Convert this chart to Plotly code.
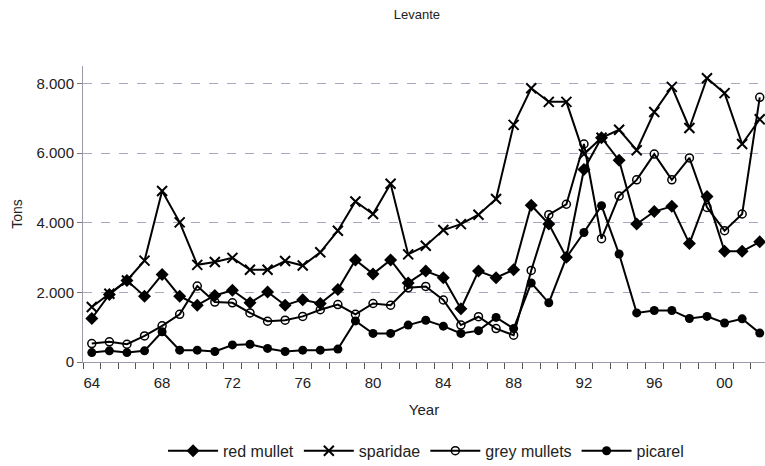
import plotly.graph_objects as go

years = list(range(1964, 2003))

red_mullet = [1250, 1940, 2340, 1890, 2510, 1890, 1630,
              1910, 2060, 1700, 2010, 1630, 1790, 1680,
              2080, 2930, 2530, 2930, 2270, 2610, 2420,
              1530, 2610, 2420, 2650, 4500, 3960, 3010,
              5530, 6440, 5790, 3960, 4320, 4470, 3400,
              4750, 3180, 3180, 3450]
sparidae = [1580, 1960, 2340, 2910, 4910, 4010, 2790,
            2870, 2990, 2650, 2650, 2900, 2770, 3150,
            3770, 4610, 4250, 5120, 3090, 3340, 3790,
            3960, 4230, 4680, 6810, 7860, 7470, 7470,
            5970, 6440, 6670, 6080, 7180, 7900, 6720,
            8150, 7720, 6260, 6970]
grey_mullets = [530, 580, 510, 750, 1040, 1370, 2180,
                1720, 1700, 1410, 1170, 1200, 1310, 1500,
                1650, 1370, 1680, 1630, 2130, 2170, 1780,
                1060, 1300, 960, 770, 2630, 4230, 4530,
                6260, 3540, 4770, 5230, 5970, 5230, 5860,
                4440, 3770, 4250, 7600]
picarel = [270, 320, 270, 320, 870, 340, 340,
           300, 490, 510, 390, 300, 340, 340,
           370, 1180, 820, 820, 1060, 1200, 1030,
           820, 900, 1280, 960, 2270, 1700, 3000,
           3720, 4490, 3100, 1410, 1480, 1480, 1250,
           1310, 1120, 1240, 830]

tick_years = [1964, 1968, 1972, 1976, 1980, 1984, 1988, 1992, 1996, 2000]
tick_labels = ["64", "68", "72", "76", "80", "84", "88", "92", "96", "00"]
y_ticks = [0, 2000, 4000, 6000, 8000]
x_range = [1963.5, 2002.3]
# tick marks sit between the years
boundaries = [y - 0.5 for y in years] + [years[-1] + 0.5]

fig = go.Figure()

series = [
    ("red mullet", red_mullet, dict(symbol="diamond", size=10, color="black")),
    ("sparidae", sparidae, dict(symbol="x-thin", size=10, color="black",
                                line=dict(width=2, color="black"))),
    ("grey mullets", grey_mullets, dict(symbol="circle-open", size=8, color="black",
                                        line=dict(width=1.5, color="black"))),
    ("picarel", picarel, dict(symbol="circle", size=9, color="black")),
]

for name, vals, marker in series:
    fig.add_trace(go.Scatter(
        x=years, y=vals, name=name, mode="lines+markers",
        line=dict(color="black", width=2),
        marker=marker, cliponaxis=False,
    ))

# invisible trace on a second x axis that carries the year labels
fig.add_trace(go.Scatter(x=[years[0]], y=[0], xaxis="x2", mode="markers",
                         marker=dict(opacity=0), showlegend=False, hoverinfo="skip"))

fig.update_layout(
    width=765, height=466,
    paper_bgcolor="white", plot_bgcolor="white",
    separators=",.",
    font=dict(family="Liberation Sans, Arial, sans-serif", size=14, color="#222"),
    title=dict(text="Levante", x=0.545, xanchor="center", y=0.968, yanchor="middle",
               font=dict(size=13, color="#222")),
    margin=dict(l=83, r=0, t=66, b=104, autoexpand=False),
    showlegend=True,
    legend=dict(orientation="h", x=0.503, xanchor="center", y=-0.30, yanchor="middle",
                font=dict(size=16), itemwidth=50, traceorder="normal"),
    xaxis=dict(
        range=x_range,
        tickmode="array", tickvals=boundaries, showticklabels=False,
        ticks="outside", ticklen=6, tickcolor="#555",
        showgrid=False, zeroline=False,
        showline=True, linecolor="#9a9aaa", linewidth=1, automargin=False,
        title=dict(text="Year", standoff=36, font=dict(size=15)),
    ),
    xaxis2=dict(overlaying="x", side="bottom", range=x_range, anchor="y",
                tickmode="array", tickvals=tick_years, ticktext=tick_labels,
                ticks="", ticklabelstandoff=10, tickfont=dict(size=15),
                showgrid=False, zeroline=False, showline=False, automargin=False),
    yaxis=dict(
        range=[0, 8500],
        tickmode="array", tickvals=y_ticks, tickformat=",.0f",
        ticks="outside", ticklen=5, tickcolor="#777",
        showgrid=True, gridcolor="#a8a8bc", griddash="dash", gridwidth=1,
        zeroline=False, showline=True, linecolor="#9a9aaa", linewidth=1,
        automargin=False,
        title=dict(text="Tons", standoff=10, font=dict(size=14)),
        tickfont=dict(size=15),
    ),
)

fig.write_html(
    "out.html",
    config={"displayModeBar": False},
    post_script="document.body.style.margin='0';document.body.style.overflow='hidden';",
)
